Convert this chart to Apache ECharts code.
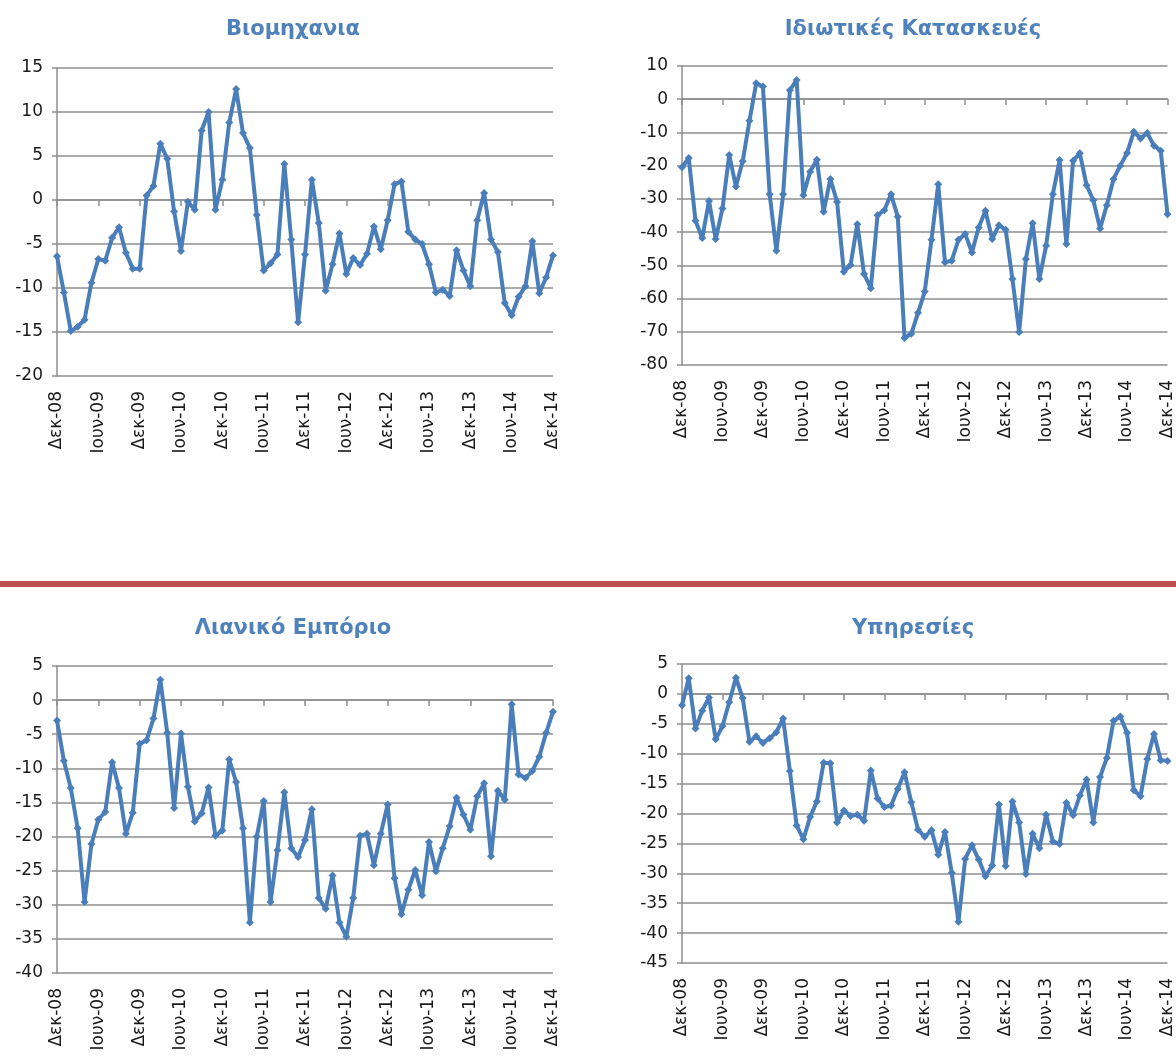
<!DOCTYPE html>
<html>
<head>
<meta charset="utf-8">
<title>Δείκτες εμπιστοσύνης</title>
<script src="https://cdn.jsdelivr.net/npm/echarts@6/dist/echarts.min.js"></script>
<style>
  html, body { margin: 0; padding: 0; background: #fff; }
  #chart { width: 1176px; height: 1057px; }
</style>
</head>
<body>
<div id="chart"></div>
<script>
'use strict';

var monthNames = ['Ιαν', 'Φεβ', 'Μαρ', 'Απρ', 'Μαϊ', 'Ιουν', 'Ιουλ', 'Αυγ', 'Σεπ', 'Οκτ', 'Νοε', 'Δεκ'];

// Δεκ-08 ... Δεκ-14, monthly
var months = ['Δεκ-08'];
for (var y = 9; y <= 14; y++) {
    for (var m = 0; m < 12; m++) {
        months.push(monthNames[m] + '-' + (y < 10 ? '0' + y : y));
    }
}

var titles = ['Βιομηχανια', 'Ιδιωτικές Κατασκευές', 'Λιανικό Εμπόριο', 'Υπηρεσίες'];

var industry = [-6.4, -10.5, -14.9, -14.4, -13.6, -9.4, -6.7, -6.9, -4.3, -3.1, -6.0, -7.8,
    -7.8, 0.5, 1.6, 6.4, 4.7, -1.3, -5.8, -0.2, -1.1, 7.9, 10.0, -1.1,
    2.3, 8.8, 12.6, 7.6, 5.9, -1.7, -8.0, -7.2, -6.2, 4.1, -4.5, -13.9,
    -6.2, 2.3, -2.6, -10.3, -7.3, -3.8, -8.4, -6.6, -7.4, -6.1, -3.0, -5.6,
    -2.3, 1.8, 2.1, -3.6, -4.5, -5.0, -7.3, -10.5, -10.2, -10.9, -5.7, -8.0,
    -9.8, -2.3, 0.8, -4.5, -5.9, -11.7, -13.1, -11.0, -9.8, -4.7, -10.6, -8.8,
    -6.3];

var construction = [-20.5, -17.7, -36.6, -41.8, -30.6, -42.1, -32.9, -16.8, -26.3, -18.7, -6.5, 4.8,
    3.8, -28.6, -45.6, -28.6, 2.7, 5.8, -28.9, -21.8, -18.2, -33.9, -24.0, -30.9,
    -51.9, -49.9, -37.6, -52.6, -56.9, -34.9, -33.4, -28.6, -35.4, -71.9, -70.6, -64.3,
    -57.9, -42.3, -25.6, -49.1, -48.6, -42.3, -40.6, -46.1, -38.6, -33.6, -42.1, -37.9,
    -39.3, -54.1, -70.1, -48.1, -37.3, -54.1, -44.1, -28.6, -18.3, -43.6, -18.5, -16.3,
    -25.9, -30.4, -38.9, -31.9, -24.0, -20.0, -16.2, -9.8, -11.8, -10.2, -14.0, -15.5,
    -34.6];

var retail = [-3.0, -8.9, -12.9, -18.8, -29.6, -21.1, -17.5, -16.4, -9.1, -12.9, -19.6, -16.5,
    -6.4, -5.9, -2.7, 3.0, -4.8, -15.8, -4.9, -12.7, -17.8, -16.6, -12.8, -19.9,
    -19.1, -8.7, -12.0, -18.8, -32.6, -20.0, -14.8, -29.6, -22.0, -13.5, -21.7, -23.0,
    -20.5, -16.0, -29.0, -30.6, -25.7, -32.6, -34.7, -29.0, -19.9, -19.6, -24.2, -19.6,
    -15.3, -26.1, -31.4, -27.8, -24.9, -28.6, -20.8, -25.1, -21.7, -18.5, -14.3, -16.8,
    -19.0, -14.1, -12.2, -22.9, -13.3, -14.6, -0.6, -10.9, -11.4, -10.4, -8.3, -4.8,
    -1.7];

var services = [-1.9, 2.6, -5.8, -2.8, -0.6, -7.6, -5.4, -1.4, 2.7, -0.7, -8.0, -7.1,
    -8.2, -7.4, -6.4, -4.1, -12.9, -22.0, -24.3, -20.6, -18.0, -11.5, -11.6, -21.5,
    -19.5, -20.4, -20.2, -21.2, -12.8, -17.5, -18.9, -18.7, -15.9, -13.1, -18.1, -22.7,
    -23.9, -22.8, -26.9, -23.1, -29.9, -38.1, -27.6, -25.3, -27.7, -30.5, -28.7, -18.5,
    -28.8, -18.0, -21.5, -30.1, -23.4, -25.8, -20.2, -24.7, -25.1, -18.2, -20.3, -17.0,
    -14.3, -21.5, -13.9, -10.7, -4.5, -3.8, -6.5, -16.1, -17.1, -10.9, -6.7, -11.1,
    -11.2];

var seriesData = [industry, construction, retail, services];
var yMin = [-20, -80, -40, -45];
var yMax = [15, 10, 5, 5];
var yStep = [5, 10, 5, 5];

var grids = [
    { left: 57, top: 68, width: 496, height: 308 },
    { left: 682, top: 66, width: 486, height: 299 },
    { left: 57, top: 666, width: 496, height: 307 },
    { left: 682, top: 664, width: 486, height: 299 }
];
var titlePos = [[288, 14], [908, 14], [288, 613], [908, 613]];

var lineColor = '#4a7ebb';
var gridColor = '#8e8e8e';
var font = 'DejaVu Sans';

var option = {
    animation: false,
    title: [],
    grid: grids,
    xAxis: [],
    yAxis: [],
    series: [],
    graphic: [{
        type: 'rect',
        shape: { x: 0, y: 581, width: 1176, height: 6 },
        style: { fill: '#c0504d' }
    }]
};

for (var i = 0; i < 4; i++) {
    var zeroFromTop = grids[i].height * yMax[i] / (yMax[i] - yMin[i]);

    option.title.push({
        text: titles[i],
        left: titlePos[i][0],
        top: titlePos[i][1],
        textAlign: 'center',
        textStyle: { color: '#4f81bd', fontSize: 21, fontWeight: 'bold', fontFamily: font }
    });

    // month labels along the bottom
    option.xAxis.push({
        type: 'category',
        gridIndex: i,
        data: months,
        boundaryGap: false,
        position: 'bottom',
        axisLine: { show: false, onZero: false },
        axisTick: { show: false },
        splitLine: { show: false },
        axisLabel: {
            interval: 5,
            rotate: 90,
            margin: 15,
            color: '#1a1a1a',
            fontSize: 17,
            fontFamily: font
        }
    });
    // axis line with tick marks, placed on the zero value
    option.xAxis.push({
        type: 'category',
        gridIndex: i,
        data: months,
        boundaryGap: false,
        position: 'top',
        offset: -Math.round(zeroFromTop),
        axisLine: { show: true, onZero: false, lineStyle: { color: gridColor, width: 1.5 } },
        axisTick: { show: true, inside: true, interval: 5, length: 6, lineStyle: { color: gridColor, width: 1.5 } },
        axisLabel: { show: false },
        splitLine: { show: false }
    });

    option.yAxis.push({
        type: 'value',
        gridIndex: i,
        min: yMin[i],
        max: yMax[i],
        interval: yStep[i],
        axisLine: { show: true, onZero: false, lineStyle: { color: gridColor, width: 1.5 } },
        axisTick: { show: true, length: 5, lineStyle: { color: gridColor, width: 1.5 } },
        splitLine: { show: true, lineStyle: { color: gridColor, width: 1.5 } },
        axisLabel: { margin: 14, color: '#1a1a1a', fontSize: 17, fontFamily: font }
    });

    option.series.push({
        name: titles[i],
        type: 'line',
        xAxisIndex: i * 2,
        yAxisIndex: i,
        data: seriesData[i],
        symbol: 'diamond',
        symbolSize: 8,
        showAllSymbol: true,
        itemStyle: { color: lineColor },
        lineStyle: { color: lineColor, width: 4 }
    });
}

var chart = echarts.init(document.getElementById('chart'));
chart.setOption(option);
</script>
</body>
</html>
